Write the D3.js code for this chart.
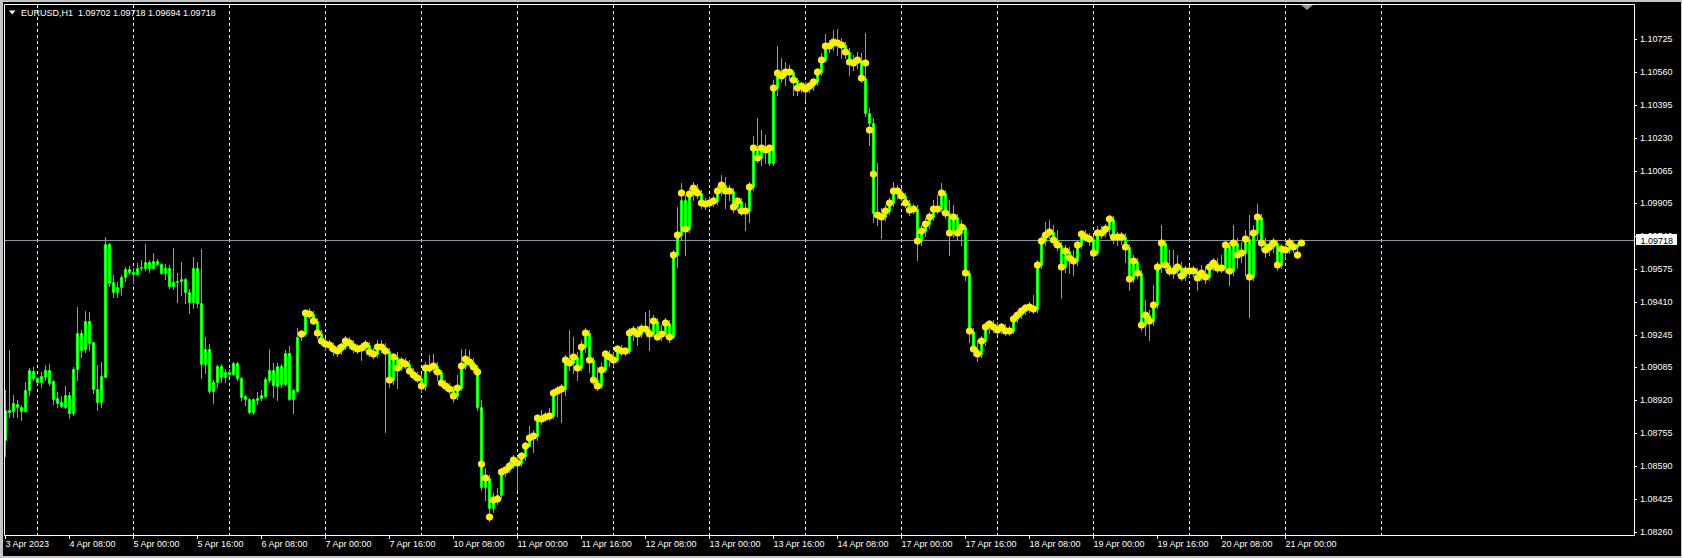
<!DOCTYPE html>
<html><head><meta charset="utf-8">
<script src="https://cdn.jsdelivr.net/npm/d3@7"></script>
<style>html,body{margin:0;padding:0;background:#000;overflow:hidden}</style>
</head><body>
<svg id="c" width="1682" height="558"></svg>
<script>
const symbolTitle = "EURUSD,H1";
const opens = [
1.0872,1.0887,1.08865,1.089,1.08885,1.08865,1.0897,1.09065,1.0903,1.0901,
1.09035,1.0907,1.09015,1.0893,1.0891,1.08885,1.08945,1.08855,1.09075,1.09255,
1.09175,1.09315,1.0921,1.08975,1.0891,1.09035,1.097,1.0951,1.0946,1.09485,
1.09535,1.09575,1.0956,1.0955,1.0958,1.0958,1.0961,1.0958,1.09615,1.096,
1.09555,1.0958,1.0949,1.0951,1.09515,1.09525,1.0946,1.0941,1.0958,1.09405,
1.091,1.09175,1.08965,1.0901,1.0909,1.09035,1.0906,1.0905,1.09105,1.0903,
1.0894,1.08925,1.0886,1.0892,1.0893,1.0894,1.0902,1.0907,1.0899,1.0909,
1.09,1.09155,1.08925,1.08965,1.09235,1.0925,1.09355,1.0935,1.09315,1.09255,
1.09215,1.092,1.09195,1.09175,1.09165,1.09185,1.09215,1.09205,1.09185,1.09175,
1.0918,1.09195,1.0916,1.0915,1.09185,1.09185,1.09165,1.0902,1.09135,1.0908,
1.0911,1.091,1.09065,1.09045,1.0903,1.0899,1.0908,1.0908,1.0909,1.0906,
1.09005,1.0899,1.08975,1.0894,1.0898,1.0909,1.09125,1.0911,1.09085,1.08885,
1.08485,1.0853,1.0838,1.0842,1.08445,1.0856,1.0857,1.0859,1.0862,1.08605,
1.0864,1.0869,1.0873,1.0874,1.0883,1.08825,1.08835,1.0884,1.08955,1.08965,
1.08975,1.0912,1.09105,1.09135,1.0908,1.09185,1.09255,1.0912,1.0902,1.0899,
1.0907,1.0915,1.09135,1.0912,1.09175,1.09165,1.09165,1.09255,1.09265,1.0925,
1.09275,1.09275,1.0925,1.09315,1.09235,1.0925,1.09305,1.09235,1.09645,1.09745,
1.0992,1.09775,1.0995,1.0998,1.09955,1.09905,1.099,1.09905,1.09915,1.09965,
1.09995,1.09965,1.09965,1.09885,1.09915,1.09865,1.09865,1.09985,1.1018,1.1013,
1.1018,1.1017,1.10105,1.1048,1.10555,1.1054,1.1056,1.1056,1.1052,1.1048,
1.1049,1.10475,1.1049,1.1051,1.1056,1.1062,1.1069,1.1069,1.1071,1.10705,
1.10695,1.1066,1.1061,1.10605,1.1062,1.1053,1.10355,1.10305,1.09855,1.09845,
1.09835,1.09865,1.09905,1.09965,1.09965,1.0994,1.09905,1.0987,1.09875,1.09715,
1.09765,1.098,1.09835,1.09875,1.09875,1.09955,1.09855,1.09755,1.09835,1.09755,
1.09785,1.09555,1.09265,1.09175,1.0915,1.09215,1.09285,1.093,1.09285,1.0927,
1.09285,1.09265,1.09265,1.09325,1.09345,1.09365,1.0938,1.09385,1.09375,1.09595,
1.09715,1.09745,1.0976,1.0972,1.09695,1.09585,1.09665,1.0963,1.09615,1.09695,
1.0975,1.09735,1.09725,1.09655,1.09755,1.09755,1.09775,1.09825,1.09735,1.09735,
1.09735,1.09685,1.09525,1.09615,1.09555,1.09295,1.09345,1.09315,1.09395,1.09585,
1.09705,1.09595,1.09565,1.09565,1.09585,1.0954,1.09565,1.09565,1.09565,1.0953,
1.09555,1.09535,1.09585,1.09605,1.0958,1.0958,1.09695,1.09565,1.09705,1.09645,
1.09655,1.09725,1.09535,1.09755,1.09835,1.09705,1.0967,1.09685,1.09705,1.09595,
1.09675,1.0967,1.09705,1.09685,1.09702];
const highs = [
1.0897,1.0917,1.08945,1.0892,1.08895,1.0901,1.0908,1.09085,1.09035,1.0906,
1.09095,1.091,1.0902,1.0896,1.0894,1.0899,1.0896,1.09085,1.09385,1.0927,
1.09365,1.0936,1.0921,1.09095,1.0911,1.09735,1.09705,1.09545,1.0951,1.09545,
1.09585,1.0959,1.0958,1.09605,1.0962,1.097,1.0962,1.09655,1.09625,1.09605,
1.096,1.09595,1.0968,1.09555,1.0961,1.0953,1.09475,1.09635,1.0961,1.09675,
1.09235,1.092,1.0902,1.09095,1.091,1.09075,1.09075,1.0911,1.0911,1.09035,
1.08945,1.0893,1.0893,1.0896,1.0897,1.09035,1.09175,1.09105,1.09105,1.091,
1.0917,1.0919,1.08975,1.0928,1.0927,1.0937,1.0938,1.09365,1.0933,1.0927,
1.0923,1.0922,1.09205,1.09195,1.09205,1.0924,1.09235,1.0922,1.092,1.09205,
1.0922,1.0921,1.0918,1.0922,1.0922,1.09205,1.0918,1.09155,1.0916,1.09135,
1.0913,1.0912,1.0908,1.0906,1.0905,1.0911,1.09145,1.0915,1.0911,1.0907,
1.0902,1.09005,1.0899,1.09045,1.09175,1.09175,1.0917,1.0913,1.09095,1.0892,
1.0858,1.08545,1.08455,1.0848,1.0858,1.0859,1.08615,1.08645,1.0864,1.0866,
1.0871,1.0879,1.0877,1.0885,1.0887,1.0886,1.0888,1.08975,1.0899,1.09,
1.09145,1.0927,1.09235,1.0916,1.0922,1.0928,1.0927,1.09135,1.09085,1.09105,
1.0917,1.0917,1.0916,1.09195,1.09195,1.09185,1.0928,1.0929,1.0929,1.093,
1.0936,1.0937,1.09345,1.0933,1.09295,1.0933,1.0932,1.0967,1.09885,1.10005,
1.09945,1.0998,1.1001,1.1,1.0997,1.0993,1.0993,1.0994,1.0999,1.10045,
1.10035,1.09995,1.0998,1.09935,1.0993,1.09905,1.1001,1.1024,1.1033,1.1027,
1.10245,1.10195,1.1052,1.1069,1.1063,1.1061,1.10595,1.1057,1.1053,1.1051,
1.1051,1.1051,1.1053,1.1058,1.10655,1.1075,1.1072,1.1077,1.10775,1.1073,
1.1071,1.1068,1.10645,1.1066,1.10655,1.10755,1.1038,1.1033,1.10105,1.0988,
1.09895,1.0993,1.1001,1.09995,1.0998,1.09955,1.0992,1.099,1.09895,1.09795,
1.0983,1.0986,1.0992,1.09945,1.10005,1.0997,1.0992,1.09895,1.0985,1.0982,
1.09795,1.0957,1.0928,1.0922,1.0924,1.0931,1.0932,1.0932,1.0931,1.09305,
1.093,1.0929,1.0935,1.09365,1.09385,1.094,1.0941,1.09445,1.0962,1.0974,
1.0981,1.0982,1.09795,1.0977,1.0971,1.09695,1.09685,1.0967,1.0972,1.0977,
1.0977,1.09755,1.0974,1.0979,1.0979,1.098,1.09845,1.0984,1.0976,1.0976,
1.09755,1.097,1.09645,1.0963,1.0957,1.0942,1.0937,1.09495,1.0961,1.09795,
1.0972,1.0967,1.0967,1.09645,1.0961,1.0959,1.0959,1.0959,1.0958,1.09595,
1.0959,1.0961,1.0963,1.0963,1.09645,1.0972,1.0971,1.09795,1.0973,1.0971,
1.0977,1.09845,1.09795,1.099,1.0985,1.0973,1.0972,1.0973,1.0972,1.097,
1.09705,1.0973,1.0972,1.09705,1.09718];
const lows = [
1.0864,1.08835,1.08835,1.08835,1.0882,1.0886,1.08945,1.0902,1.09005,1.08985,
1.0902,1.08995,1.089,1.08885,1.08885,1.0888,1.0883,1.08845,1.0902,1.09135,
1.0916,1.0917,1.08955,1.0887,1.08885,1.09035,1.0949,1.09435,1.09435,1.09445,
1.09515,1.0955,1.09505,1.09545,1.0957,1.0957,1.0956,1.09575,1.09595,1.0955,
1.09525,1.0948,1.09475,1.0941,1.09445,1.09405,1.09355,1.0938,1.09385,1.0903,
1.09055,1.08955,1.08905,1.08985,1.0901,1.0901,1.0904,1.09045,1.0902,1.0892,
1.08895,1.08855,1.0885,1.089,1.0892,1.08935,1.0901,1.08935,1.0892,1.08985,
1.08995,1.0892,1.08855,1.0896,1.0922,1.0924,1.0933,1.093,1.0923,1.09195,
1.0917,1.0917,1.09145,1.0914,1.0915,1.09175,1.0918,1.0916,1.09155,1.0912,
1.0917,1.0914,1.0913,1.09135,1.0916,1.0876,1.08985,1.09,1.0898,1.0907,
1.0908,1.0905,1.09025,1.0901,1.0896,1.0897,1.0906,1.0906,1.0902,1.0899,
1.0897,1.08955,1.0891,1.08925,1.0897,1.09075,1.0909,1.0906,1.0887,1.0847,
1.0842,1.08315,1.0836,1.084,1.0843,1.0854,1.0856,1.0858,1.0847,1.0859,
1.0862,1.0871,1.0866,1.0872,1.088,1.08815,1.0882,1.0883,1.0884,1.0881,
1.08945,1.0907,1.09055,1.0902,1.0907,1.0916,1.0906,1.09,1.0897,1.0898,
1.0906,1.0909,1.0909,1.0911,1.09145,1.09145,1.09155,1.0922,1.09195,1.09235,
1.09255,1.0917,1.0924,1.0922,1.0922,1.0924,1.0921,1.0923,1.09585,1.0972,
1.09645,1.0976,1.0992,1.0993,1.0988,1.09875,1.09885,1.0989,1.099,1.09945,
1.0988,1.0992,1.0986,1.0987,1.09845,1.0977,1.0981,1.0997,1.1011,1.10095,
1.10105,1.10095,1.10095,1.10445,1.1051,1.10495,1.1052,1.10445,1.10445,1.1046,
1.1042,1.1046,1.1047,1.10495,1.10545,1.1061,1.1066,1.1067,1.10645,1.1063,
1.1063,1.10545,1.1057,1.1058,1.1051,1.1034,1.10195,1.0981,1.09795,1.0973,
1.0982,1.0985,1.0989,1.0993,1.0992,1.09885,1.09845,1.09855,1.0962,1.09695,
1.0974,1.0978,1.0982,1.09855,1.0986,1.0983,1.09645,1.09735,1.0972,1.09695,
1.0952,1.0921,1.09145,1.09115,1.09135,1.09195,1.09255,1.0926,1.0925,1.09255,
1.09245,1.09245,1.09255,1.0931,1.0933,1.0935,1.0936,1.09355,1.0936,1.0958,
1.09695,1.0973,1.09695,1.0967,1.0943,1.0956,1.09555,1.09545,1.09595,1.0968,
1.09715,1.09695,1.0963,1.09645,1.0973,1.0974,1.09745,1.09705,1.09695,1.097,
1.0961,1.0947,1.0951,1.0953,1.0927,1.09245,1.0922,1.09295,1.0938,1.0956,
1.0957,1.09545,1.0953,1.09545,1.0952,1.0952,1.0954,1.0954,1.0947,1.0952,
1.09505,1.0952,1.0957,1.0956,1.0956,1.0956,1.09495,1.09545,1.0958,1.0961,
1.09545,1.09335,1.0952,1.0972,1.0967,1.09635,1.09645,1.0966,1.0957,1.0958,
1.0963,1.09655,1.0966,1.0963,1.09694];
const closes = [
1.0887,1.0886,1.08905,1.08885,1.08865,1.0897,1.0907,1.0903,1.0901,1.0904,
1.0907,1.09005,1.08925,1.08905,1.0889,1.08945,1.08855,1.09075,1.09255,1.0917,
1.09315,1.09205,1.08975,1.0891,1.0904,1.097,1.09505,1.0946,1.09485,1.09535,
1.09575,1.0956,1.0955,1.0958,1.09585,1.0961,1.0958,1.09615,1.096,1.09555,
1.0958,1.0949,1.0951,1.09515,1.09525,1.0946,1.0941,1.0958,1.09405,1.091,
1.09175,1.08965,1.0901,1.0909,1.09035,1.0906,1.0905,1.09105,1.0903,1.08935,
1.08925,1.0886,1.08925,1.0893,1.08945,1.09025,1.0907,1.08995,1.0909,1.09,
1.09155,1.08925,1.0897,1.09235,1.0925,1.09355,1.0935,1.09315,1.09255,1.09215,
1.092,1.09195,1.09175,1.09165,1.09185,1.09215,1.09205,1.09185,1.09175,1.0918,
1.09195,1.0916,1.0915,1.09185,1.09185,1.09165,1.0902,1.09135,1.0908,1.0911,
1.091,1.09065,1.09045,1.0903,1.0899,1.0908,1.0908,1.0909,1.0906,1.09005,
1.0899,1.08975,1.0894,1.0898,1.0909,1.09125,1.0911,1.09085,1.08885,1.08485,
1.0853,1.0838,1.0842,1.08445,1.0856,1.0857,1.0859,1.0862,1.08605,1.0864,
1.0869,1.0873,1.0874,1.0883,1.08825,1.08835,1.0884,1.08955,1.08965,1.08975,
1.0912,1.09105,1.09135,1.0908,1.09185,1.09255,1.0912,1.0902,1.0899,1.0907,
1.0915,1.09135,1.0912,1.09175,1.09165,1.09165,1.09255,1.09265,1.0925,1.09275,
1.09275,1.0925,1.09315,1.09235,1.0925,1.09305,1.09235,1.09645,1.09745,1.0992,
1.09775,1.0995,1.0998,1.09955,1.09905,1.099,1.09905,1.09915,1.09965,1.09995,
1.09965,1.09965,1.09885,1.09915,1.09865,1.09865,1.09985,1.1018,1.1013,1.1018,
1.1017,1.10105,1.1048,1.10555,1.1054,1.1056,1.1056,1.1052,1.1048,1.1049,
1.10475,1.1049,1.1051,1.1056,1.1062,1.1069,1.1069,1.1071,1.10705,1.10695,
1.1066,1.1061,1.10605,1.1062,1.1053,1.10355,1.10305,1.09855,1.09845,1.09835,
1.09865,1.09905,1.09965,1.09965,1.0994,1.09905,1.0987,1.09875,1.09715,1.09765,
1.098,1.09835,1.09875,1.09875,1.09955,1.09855,1.09755,1.09835,1.09755,1.09785,
1.09555,1.09265,1.09175,1.0915,1.09215,1.09285,1.093,1.09285,1.0927,1.09285,
1.09265,1.09265,1.09325,1.09345,1.09365,1.0938,1.09385,1.09375,1.09595,1.09715,
1.09745,1.0976,1.0972,1.09695,1.09585,1.09665,1.0963,1.09615,1.09695,1.0975,
1.09735,1.09725,1.09655,1.09755,1.09755,1.09775,1.09825,1.09735,1.09735,1.09735,
1.09685,1.09525,1.09615,1.09555,1.09295,1.09345,1.09315,1.09395,1.09585,1.09705,
1.09595,1.09565,1.09565,1.09585,1.0954,1.09565,1.09565,1.09565,1.0953,1.09555,
1.09535,1.09585,1.09605,1.0958,1.0958,1.09695,1.09565,1.09705,1.09645,1.09655,
1.09725,1.09535,1.09755,1.09835,1.09705,1.0967,1.09685,1.09705,1.09595,1.09675,
1.0967,1.09705,1.09685,1.09702,1.09718];
// yellow markers, starting at bar dotFirstBar
const dotFirstBar = 74;
const dots = [
1.0925,1.09355,1.0935,1.09315,1.09255,1.09215,
1.092,1.09195,1.09175,1.09165,1.09185,1.09215,1.09205,1.09185,1.09175,1.0918,
1.09195,1.0916,1.0915,1.09185,1.09185,1.09165,1.0902,1.09135,1.0908,1.0911,
1.091,1.09065,1.09045,1.0903,1.0899,1.0908,1.0908,1.0909,1.0906,1.09005,
1.0899,1.08975,1.0894,1.0898,1.0909,1.09125,1.0911,1.09085,1.0906,1.086,
1.0853,1.08335,1.0842,1.08425,1.0856,1.0857,1.0859,1.0862,1.08605,1.0864,
1.0869,1.0873,1.0874,1.0883,1.08825,1.08835,1.0884,1.08955,1.08965,1.08975,
1.0912,1.09105,1.09135,1.0908,1.09185,1.09255,1.0912,1.0902,1.0899,1.0907,
1.0915,1.09135,1.0912,1.09175,1.09165,1.09165,1.09255,1.09265,1.0925,1.09275,
1.09275,1.0925,1.09315,1.09235,1.0925,1.09305,1.09235,1.09645,1.09745,1.09955,
1.09775,1.0995,1.0998,1.09955,1.09905,1.099,1.09905,1.09915,1.09965,1.09995,
1.09965,1.09965,1.09885,1.09915,1.09865,1.09865,1.09985,1.1018,1.1013,1.1018,
1.1017,1.1018,1.1048,1.10555,1.1054,1.1056,1.1056,1.1052,1.1048,1.1049,
1.10475,1.1049,1.1051,1.1056,1.1062,1.1069,1.1069,1.1071,1.10705,1.10695,
1.1066,1.1061,1.10605,1.1062,1.1053,1.10605,1.1027,1.1005,1.09845,1.09835,
1.09865,1.09905,1.09965,1.09965,1.0994,1.09905,1.0987,1.09875,1.09715,1.09765,
1.098,1.09835,1.09875,1.09875,1.09955,1.09855,1.09755,1.09835,1.09755,1.09785,
1.09555,1.09265,1.09175,1.0915,1.09215,1.09285,1.093,1.09285,1.0927,1.09285,
1.09265,1.09265,1.09325,1.09345,1.09365,1.0938,1.09385,1.09375,1.09595,1.09715,
1.09745,1.0976,1.0972,1.09695,1.09585,1.09665,1.0963,1.09615,1.09695,1.0975,
1.09735,1.09725,1.09655,1.09755,1.09755,1.09775,1.09825,1.09735,1.09735,1.09735,
1.09685,1.09525,1.09615,1.09555,1.09295,1.09345,1.09315,1.09395,1.09585,1.09705,
1.09595,1.09565,1.09565,1.09585,1.0954,1.09565,1.09565,1.09565,1.0953,1.09555,
1.09535,1.09585,1.09605,1.0958,1.0958,1.09695,1.09565,1.09705,1.09645,1.09655,
1.09725,1.09535,1.09755,1.09835,1.09705,1.0967,1.09685,1.09705,1.09595,1.09675,
1.0967,1.09705,1.09685,1.09645,1.09705];
const timeTickBars = [0,16,32,48,64,80,96,112,128,144,160,176,192,208,224,240,256,272,288,304,320];
const timeTickLabels = ["3 Apr 2023","4 Apr 08:00","5 Apr 00:00","5 Apr 16:00","6 Apr 08:00","7 Apr 00:00","7 Apr 16:00","10 Apr 08:00","11 Apr 00:00","11 Apr 16:00","12 Apr 08:00","13 Apr 00:00","13 Apr 16:00","14 Apr 08:00","17 Apr 00:00","17 Apr 16:00","18 Apr 08:00","19 Apr 00:00","19 Apr 16:00","20 Apr 08:00","21 Apr 00:00"];
const dayGridBars = [8,32,56,80,104,128,152,176,200,224,248,272,296,320,344];
const priceTicks = [1.10725,1.10560,1.10395,1.10230,1.10065,1.09905,1.09740,1.09575,1.09410,1.09245,1.09085,1.08920,1.08755,1.08590,1.08425,1.08260];
const currentPrice = 1.09718;

const W = 1682, H = 558;
const L = 4.5, T = 4.5, R = 1634.5, B = 535.5;
const FONT = "'Liberation Sans', Arial, sans-serif";
const svg = d3.select("#c");
svg.append("rect").attr("width", W).attr("height", H).attr("fill", "#c4c4c4");
svg.append("rect").attr("x", 3).attr("y", 2).attr("width", W - 4).attr("height", 554).attr("fill", "#000");

const x = d3.scaleLinear().domain([0, 344]).range([5.5, 1381.5]);
const y = d3.scaleLinear().domain([1.08260, 1.10725]).range([532, 39]);

svg.append("defs").append("clipPath").attr("id", "plot")
  .append("rect").attr("x", 5).attr("y", 5).attr("width", R - 5).attr("height", B - 5);

// day separators
svg.append("g").selectAll("line").data(dayGridBars).join("line")
  .attr("x1", d => x(d)).attr("x2", d => x(d)).attr("y1", 5).attr("y2", B)
  .attr("stroke", "#ffffff").attr("stroke-width", 1).attr("stroke-dasharray", "3,3")
  .attr("shape-rendering", "crispEdges");

// bid line
const yc = Math.round(y(currentPrice)) + 0.5;
svg.append("line").attr("x1", L).attr("x2", R).attr("y1", yc).attr("y2", yc)
  .attr("stroke", "#8a96a3").attr("stroke-width", 1);

const bars = d3.range(closes.length);
const g = svg.append("g").attr("clip-path", "url(#plot)");
g.selectAll("line.wick").data(bars).join("line").attr("class", "wick")
  .attr("x1", i => x(i)).attr("x2", i => x(i))
  .attr("y1", i => Math.round(y(highs[i])))
  .attr("y2", i => Math.round(y(lows[i])) + 1)
  .attr("stroke", "#00ff00").attr("stroke-width", 1);
g.selectAll("path.body").data(bars).join("path").attr("class", "body")
  .attr("d", i => {
    const t = Math.round(y(Math.max(opens[i], closes[i]))) + 0.5;
    const b = Math.round(y(Math.min(opens[i], closes[i]))) + 0.5;
    const cx = x(i);
    return `M${cx - 1},${t}H${cx + 1}V${b}H${cx - 1}Z`;
  })
  .attr("fill", "#ffffff").attr("stroke", "#00ff00").attr("stroke-width", 1);

// yellow markers
g.selectAll("circle").data(dots).join("circle")
  .attr("cx", (d, k) => x(dotFirstBar + k))
  .attr("cy", d => y(d))
  .attr("r", 3.6)
  .attr("fill", "#fff200");

// frame
svg.append("path").attr("d", `M${L},${T}H${R}V${B}H${L}Z`)
  .attr("fill", "none").attr("stroke", "#ffffff").attr("stroke-width", 1);

// price axis
const yAxis = d3.axisRight(y).tickValues(priceTicks).tickSize(3).tickPadding(3)
  .tickFormat(d3.format(".5f"));
const ga = svg.append("g").attr("transform", `translate(${R - 0.5},0)`).call(yAxis);
ga.select(".domain").remove();
ga.selectAll("line").attr("stroke", "#ffffff");
ga.selectAll("text").attr("fill", "#ffffff").style("font-family", FONT).style("font-size", "9px");

// time axis
const xAxis = d3.axisBottom(x).tickValues(timeTickBars).tickSize(4)
  .tickFormat((d, i) => timeTickLabels[i]);
const gx = svg.append("g").attr("transform", `translate(-0.5,${B - 0.5})`).call(xAxis);
gx.select(".domain").remove();
gx.selectAll("line").attr("stroke", "#ffffff");
gx.selectAll("text").attr("fill", "#ffffff").attr("text-anchor", "start")
  .attr("x", 0).attr("y", 12).attr("dy", null)
  .style("font-family", FONT).style("font-size", "9px");

// current price label
svg.append("rect").attr("x", 1636).attr("y", Math.round(y(currentPrice)) - 6)
  .attr("width", 41).attr("height", 11).attr("fill", "#ffffff");
svg.append("text").attr("x", 1640.5).attr("y", y(currentPrice) + 3.3)
  .attr("fill", "#000").style("font-family", FONT).style("font-size", "9px")
  .text(d3.format(".5f")(currentPrice));

// chart shift marker
svg.append("path").attr("d", "M1301,5H1313L1307,10Z").attr("fill", "#8a96a3");

// title
svg.append("path").attr("d", "M9,10.5H15.5L12.25,14.5Z").attr("fill", "#ffffff");
const last = closes.length - 1;
const f5 = d3.format(".5f");
svg.append("text").attr("x", 21).attr("y", 15.5).attr("fill", "#ffffff")
  .attr("xml:space", "preserve").style("white-space", "pre")
  .style("font-family", FONT).style("font-size", "9px")
  .text(`${symbolTitle}  ${f5(opens[last])} ${f5(highs[last])} ${f5(lows[last])} ${f5(closes[last])}`);
</script>
</body></html>
